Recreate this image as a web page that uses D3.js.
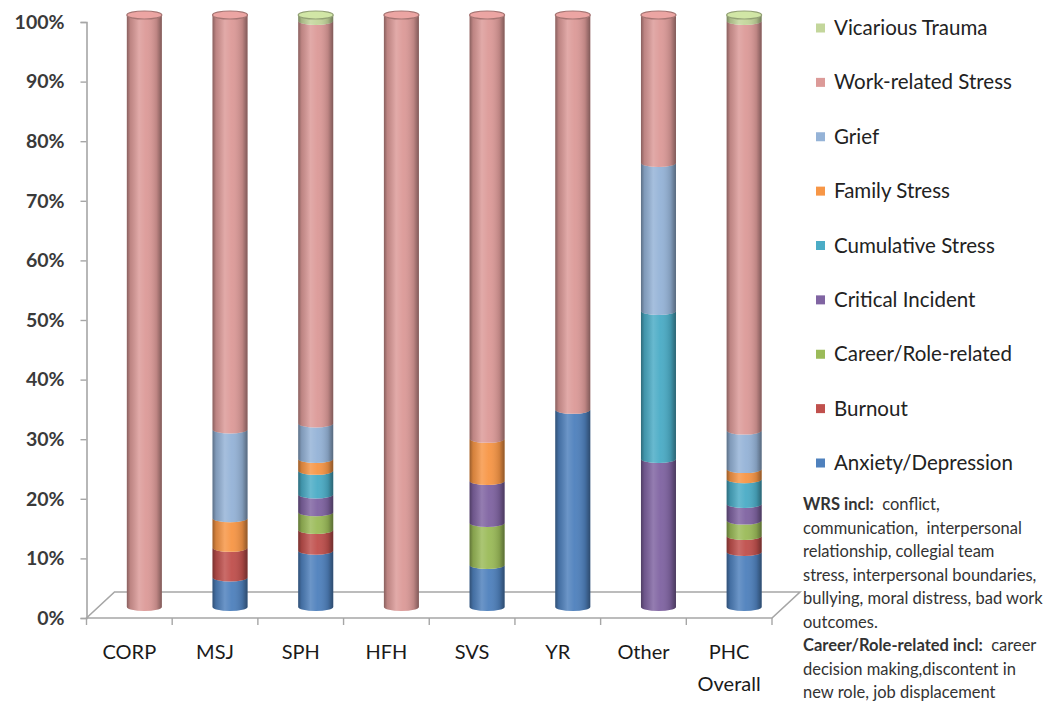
<!DOCTYPE html>
<html>
<head>
<meta charset="utf-8">
<script src="https://cdn.jsdelivr.net/npm/d3@7"></script>
<style>
  html, body { margin: 0; padding: 0; background: #ffffff; }
  svg { display: block; }
</style>
</head>
<body>
<svg id="chart" width="1046" height="715"></svg>
<script>
// Sites / units
const categories = ["CORP", "MSJ", "SPH", "HFH", "SVS", "YR", "Other", "PHC Overall"];

// Share of referrals by reason (percent), stacked bottom to top
const anxietyDepression = [0, 5, 9.5, 0, 7.1, 33.3, 0, 9.3];
const burnout           = [0, 5, 3.5, 0, 0,   0,    0, 2.7];
const careerRole        = [0, 0, 3,   0, 7.1, 0,    0, 2.6];
const criticalIncident  = [0, 0, 3,   0, 7.1, 0,   25, 2.8];
const cumulativeStress  = [0, 0, 4,   0, 0,   0,   25, 4.2];
const familyStress      = [0, 5, 2,   0, 7.1, 0,    0, 1.7];
const grief             = [0, 15, 6,  0, 0,   0,   25, 6.5];
const workStress        = [100, 70, 68, 100, 71.6, 66.7, 25, 69.2];
const vicariousTrauma   = [0, 0, 1,   0, 0,   0,    0, 1];

const seriesNames = ["Anxiety/Depression", "Burnout", "Career/Role-related", "Critical Incident",
  "Cumulative Stress", "Family Stress", "Grief", "Work-related Stress", "Vicarious Trauma"];
const seriesValues = [anxietyDepression, burnout, careerRole, criticalIncident,
  cumulativeStress, familyStress, grief, workStress, vicariousTrauma];
const seriesColors = ["#4F81BD", "#C0504D", "#9BBB59", "#8064A2",
  "#4BACC6", "#F79646", "#95B3D7", "#DC9A98", "#C3D69B"];

const yTicks = [0, 0.1, 0.2, 0.3, 0.4, 0.5, 0.6, 0.7, 0.8, 0.9, 1.0];

const noteLines = [
  [["WRS incl:", true], ["  conflict,", false]],
  [["communication,  interpersonal", false]],
  [["relationship, collegial team", false]],
  [["stress, interpersonal boundaries,", false]],
  [["bullying, moral distress, bad work", false]],
  [["outcomes.", false]],
  [["Career/Role-related incl:", true], ["  career", false]],
  [["decision making,discontent in", false]],
  [["new role, job displacement", false]]
];

// ---- rows for d3.stack ----
const rows = categories.map((c, i) => {
  const r = { cat: c };
  seriesNames.forEach((s, k) => r[s] = seriesValues[k][i] / 100);
  return r;
});
const stacked = d3.stack().keys(seriesNames)(rows);

const svg = d3.select("#chart");
const font = "Lato, 'Open Sans', sans-serif";

// front plane of the 3D floor and depth offsets
const frontY = 618;
const depth = { dx: 28, dy: -26 };
const barShift = { dx: 15, dy: -11 };

const x = d3.scaleBand().domain(categories).range([86.5, 772]).padding(0);
const yAxisScale = d3.scaleLinear().domain([0, 1]).range([frontY, 22]);
const yBar = d3.scaleLinear().domain([0, 1]).range([frontY + barShift.dy, 15]);

// ---- floor ----
const x0 = x.range()[0], x1 = x.range()[1];
svg.append("path")
  .attr("d", `M${x0},${frontY} L${x0 + depth.dx},${frontY + depth.dy} L${x1 + depth.dx},${frontY + depth.dy} L${x1},${frontY} Z`)
  .attr("fill", "#ffffff")
  .attr("stroke", "#a6a6a6")
  .attr("stroke-width", 1.6);

// ---- value axis (front left) ----
const yAxis = svg.append("g")
  .attr("transform", `translate(${x0},0)`)
  .call(d3.axisLeft(yAxisScale).tickValues(yTicks).tickFormat(d3.format(".0%")).tickSize(6).tickPadding(16));
yAxis.select(".domain").attr("stroke", "#a6a6a6").attr("stroke-width", 1.6);
yAxis.selectAll(".tick line").attr("stroke", "#a6a6a6").attr("stroke-width", 1.4);
yAxis.selectAll(".tick text")
  .attr("font-family", font).attr("font-weight", "bold").attr("font-size", 19.5)
  .attr("fill", "#3a3a3a");

// ---- category axis ----
const xAxis = svg.append("g").attr("transform", `translate(0,${frontY})`);
const edges = categories.map(c => x(c)).concat([x1]);
xAxis.selectAll("line.tick").data(edges).join("line")
  .attr("x1", d => d).attr("x2", d => d).attr("y1", 0).attr("y2", 7)
  .attr("stroke", "#a6a6a6").attr("stroke-width", 1.4);
xAxis.selectAll("text").data(categories).join("text")
  .attr("x", d => x(d) + x.bandwidth() / 2)
  .attr("y", 41)
  .attr("text-anchor", "middle")
  .attr("font-family", font).attr("font-size", 20)
  .attr("fill", "#1a1a1a")
  .each(function(d) {
    const parts = d.split(" ");
    d3.select(this).selectAll("tspan").data(parts).join("tspan")
      .attr("x", x(d) + x.bandwidth() / 2)
      .attr("dy", (p, i) => i === 0 ? 0 : 32)
      .text(p => p);
  });

// ---- cylinders ----
const defs = svg.append("defs");
const shade = defs.append("linearGradient").attr("id", "shade").attr("x1", "0").attr("x2", "1").attr("y1", "0").attr("y2", "0");
[[0, "#000", 0.38], [0.1, "#000", 0.14], [0.35, "#fff", 0.16], [0.55, "#fff", 0.04], [0.85, "#000", 0.14], [1, "#000", 0.42]]
  .forEach(([o, c, a]) => shade.append("stop").attr("offset", o).attr("stop-color", c).attr("stop-opacity", a));

const rx = 17.5, ry = 4;
function bodyPath(cx, yTop, yBot) {
  return `M${cx - rx},${yTop} A${rx},${ry} 0 0 0 ${cx + rx},${yTop} L${cx + rx},${yBot} A${rx},${ry} 0 0 1 ${cx - rx},${yBot} Z`;
}
const cxOf = c => x(c) + x.bandwidth() / 2 + barShift.dx;

const bars = svg.append("g");
stacked.forEach((layer, k) => {
  bars.selectAll(null).data(layer.filter(d => d[1] - d[0] > 0)).join("path")
    .attr("d", d => bodyPath(cxOf(d.data.cat), yBar(d[1]), yBar(d[0])))
    .attr("fill", seriesColors[k]);
});
// shading over each full cylinder
bars.selectAll("path.shade").data(categories).join("path")
  .attr("class", "shade")
  .attr("d", c => bodyPath(cxOf(c), yBar(1), yBar(0)))
  .attr("fill", "url(#shade)");
// top caps take the colour of the uppermost segment
const topColor = c => {
  const i = categories.indexOf(c);
  let k = seriesValues.length - 1;
  while (k > 0 && seriesValues[k][i] <= 0) k--;
  return seriesColors[k];
};
bars.selectAll("ellipse.cap").data(categories).join("ellipse")
  .attr("class", "cap")
  .attr("cx", c => cxOf(c)).attr("cy", yBar(1))
  .attr("rx", rx).attr("ry", ry)
  .attr("fill", c => d3.color(topColor(c)).brighter(0.2))
  .attr("stroke", c => d3.color(topColor(c)).darker(0.8))
  .attr("stroke-width", 1.2);

// ---- legend ----
const legendOrder = seriesNames.map((s, k) => k).reverse();
const ly = d3.scalePoint().domain(legendOrder).range([28, 463]);
const legend = svg.append("g");
legend.selectAll("rect").data(legendOrder).join("rect")
  .attr("x", 816).attr("y", k => ly(k) - 4.5).attr("width", 9).attr("height", 9)
  .attr("fill", k => seriesColors[k]);
legend.selectAll("text").data(legendOrder).join("text")
  .attr("x", 834).attr("y", k => ly(k) + 7)
  .attr("font-family", font).attr("font-size", 20.5).attr("fill", "#222")
  .text(k => seriesNames[k]);

// ---- notes ----
const notes = svg.append("g");
noteLines.forEach((parts, i) => {
  const t = notes.append("text")
    .attr("x", 803).attr("y", 510 + i * 23.5)
    .attr("font-family", font).attr("font-size", 16.5).attr("fill", "#333")
    .attr("xml:space", "preserve");
  parts.forEach(([s, b]) => t.append("tspan").attr("font-weight", b ? "bold" : "normal").text(s));
});
</script>
</body>
</html>
